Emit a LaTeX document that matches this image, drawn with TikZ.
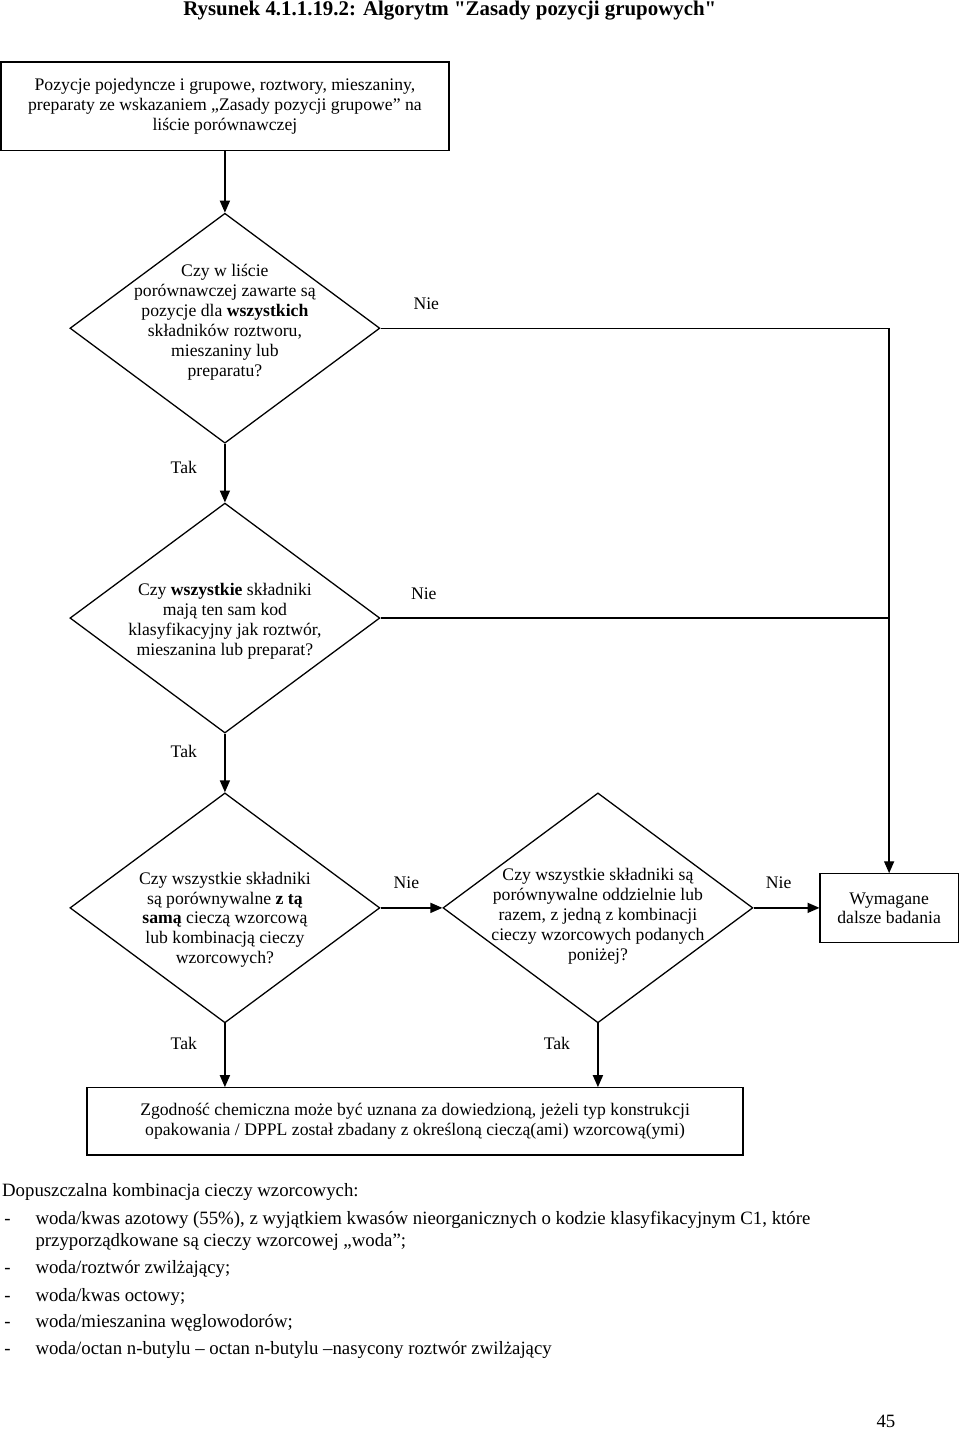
\documentclass[tikz,border=0pt]{standalone}
\usepackage{fontspec}
\setmainfont{Liberation Serif}
\newfontfamily\titlefont{Liberation Serif}[Ligatures=TeXOff]
\usetikzlibrary{arrows.meta,positioning,shapes.geometric}
\newcommand{\flowfont}{\fontsize{11}{12.4}\selectfont}
\newcommand{\notefont}{\fontsize{11.7}{13.6}\selectfont}

\begin{document}
\begin{tikzpicture}[
      box/.style={draw,line width=0.8pt,align=center,font=\flowfont},
      dia/.style={draw,diamond,line width=0.8pt,minimum width=6.78cm,minimum height=5.03cm,inner sep=0pt},
      txt/.style={align=center,font=\flowfont,inner sep=0pt},
      lbl/.style={font=\flowfont},
      note/.style={font=\notefont,anchor=base west,inner sep=0pt},
      arr/.style={-{Triangle[length=2.6mm,width=2.2mm]},line width=0.8pt},
      lne/.style={line width=0.8pt}]
    \useasboundingbox (0,0) rectangle (21,-31.26);
    \node[font=\titlefont\fontsize{13}{15}\selectfont\bfseries,anchor=base] (title) at (9.84,-0.33)
      {Rysunek 4.1.1.19.2: Algorytm "Zasady pozycji grupowych"};
    \node[box,minimum width=9.8cm,minimum height=1.93cm] (start) at (4.92,-2.32)
      {Pozycje pojedyncze i grupowe, roztwory, mieszaniny,\\ preparaty ze wskazaniem „Zasady pozycji grupowe” na\\ liście porównawczej};
    % decisions
    \node[dia] (q1) at (4.92,-7.18) {};
    \node[txt] (q1t) at ([yshift=0.13cm]q1.center)
      {Czy w liście\\ porównawczej zawarte są\\ pozycje dla \textbf{wszystkich}\\ składników roztworu,\\ mieszaniny lub\\ preparatu?};
    \node[dia] (q2) at (4.92,-13.52) {};
    \node[txt] (q2t) at ([yshift=-0.07cm]q2.center)
      {Czy \textbf{wszystkie} składniki\\ mają ten sam kod\\ klasyfikacyjny jak roztwór,\\ mieszanina lub preparat?};
    \node[dia] (q3) at (4.92,-19.86) {};
    \node[txt] (q3t) at ([yshift=-0.26cm]q3.center)
      {Czy wszystkie składniki\\ są porównywalne \textbf{z tą}\\ \textbf{samą} cieczą wzorcową\\ lub kombinacją cieczy\\ wzorcowych?};
    \node[dia] (q4) at (13.08,-19.86) {};
    \node[txt] (q4t) at ([yshift=-0.18cm]q4.center)
      {Czy wszystkie składniki są\\ porównywalne oddzielnie lub\\ razem, z jedną z kombinacji\\ cieczy wzorcowych podanych\\ poniżej?};
    \node[box,minimum width=3.02cm,minimum height=1.51cm] (wym) at (19.45,-19.87) {Wymagane\\ dalsze badania};
    \node[box,minimum width=14.35cm,minimum height=1.47cm] (res) at (9.08,-24.53)
      {Zgodność chemiczna może być uznana za dowiedzioną, jeżeli typ konstrukcji\\ opakowania / DPPL został zbadany z określoną cieczą(ami) wzorcową(ymi)};
    % connectors
    \draw[arr] (start) -- (q1);
    \draw[arr] (q1) -- node[lbl,left=0.48cm,pos=0.4]{Tak} (q2);
    \draw[arr] (q2) -- node[lbl,left=0.48cm,pos=0.3]{Tak} (q3);
    \draw[arr] (q1.east) -- node[lbl,above=0.28cm,pos=0.09]{Nie} (q1.east -| wym.north) -- (wym.north);
    \draw[lne] (q2.east) -- node[lbl,above=0.28cm,pos=0.085]{Nie} (q2.east -| wym.north);
    \draw[arr] (q3.east) -- node[lbl,above=0.28cm,pos=0.42]{Nie} (q4.west);
    \draw[arr] (q4.east) -- node[lbl,above=0.28cm,pos=0.38]{Nie} (q4.east -| wym.west);
    \draw[arr] (q3.south) -- node[lbl,left=0.48cm,pos=0.31]{Tak} (q3.south |- res.north);
    \draw[arr] (q4.south) -- node[lbl,left=0.48cm,pos=0.31]{Tak} (q4.south |- res.north);
    % list below
    \node[note] (intro) at (0.04,-26.18) {Dopuszczalna kombinacja cieczy wzorcowych:};
    \node[note] (d1) at (0.09,-26.78) {-};
    \node[note] (p1) at (0.77,-26.78) {woda/kwas azotowy (55\%), z wyjątkiem kwasów nieorganicznych o kodzie klasyfikacyjnym C1, które};
    \node[note] (p1b) at (0.77,-27.26) {przyporządkowane są cieczy wzorcowej „woda”;};
    \node[note] (d2) at (0.09,-27.85) {-};
    \node[note] (p2) at (0.77,-27.85) {woda/roztwór zwilżający;};
    \node[note] (d3) at (0.09,-28.46) {-};
    \node[note] (p3) at (0.77,-28.46) {woda/kwas octowy;};
    \node[note] (d4) at (0.09,-29.05) {-};
    \node[note] (p4) at (0.77,-29.05) {woda/mieszanina węglowodorów;};
    \node[note] (d5) at (0.09,-29.64) {-};
    \node[note] (p5) at (0.77,-29.64) {woda/octan n-butylu – octan n-butylu –nasycony roztwór zwilżający};
    \node[font=\notefont,anchor=base] (page) at (19.38,-31.22) {45};
  \end{tikzpicture}
\end{document}
